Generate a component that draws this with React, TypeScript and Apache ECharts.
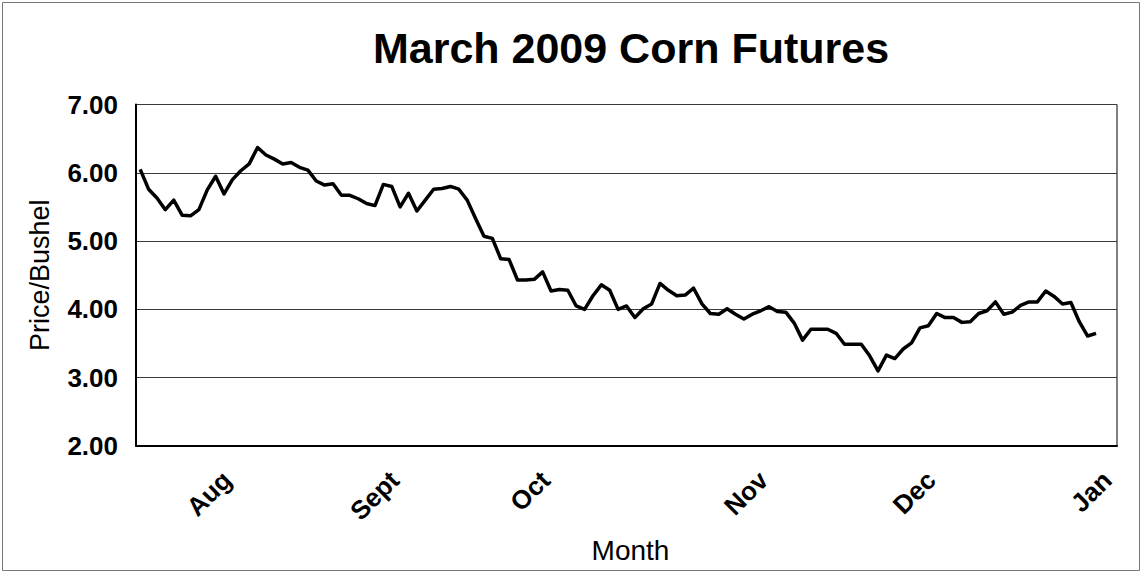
import React, { useEffect, useRef } from "react";
import * as echarts from "echarts";

const titleText = "March 2009 Corn Futures";
const yAxisName = "Price/Bushel";
const xAxisName = "Month";

// Month labels and the trading-day index where each appears
const monthLabels = ["Aug", "Sept", "Oct", "Nov", "Dec", "Jan"];
const monthIndex = [11, 31, 49, 75, 95, 116];
const categoryCount = 117;

// Daily closing prices ($/bushel)
const prices = [
  6.05, 5.76, 5.63, 5.46, 5.6, 5.38, 5.37, 5.46, 5.75, 5.95,
  5.69, 5.9, 6.03, 6.13, 6.37, 6.26, 6.2, 6.13, 6.15, 6.08,
  6.04, 5.88, 5.82, 5.84, 5.67, 5.67, 5.62, 5.55, 5.52, 5.83,
  5.8, 5.5, 5.7, 5.44, 5.6, 5.76, 5.77, 5.8, 5.76, 5.6,
  5.33, 5.07, 5.04, 4.74, 4.73, 4.43, 4.43, 4.44, 4.55, 4.27,
  4.29, 4.28, 4.05, 4.0, 4.2, 4.36, 4.28, 4.0, 4.05, 3.88,
  4.01, 4.08, 4.38, 4.28, 4.2, 4.21, 4.31, 4.08, 3.94, 3.93,
  4.01, 3.93, 3.86, 3.93, 3.98, 4.04, 3.97, 3.96, 3.8, 3.55,
  3.71, 3.71, 3.71, 3.65, 3.49, 3.49, 3.49, 3.32, 3.1, 3.33,
  3.28, 3.42, 3.51, 3.73, 3.76, 3.94, 3.88, 3.88, 3.81, 3.82,
  3.94, 3.98, 4.11, 3.93, 3.96, 4.06, 4.11, 4.11, 4.27, 4.19,
  4.08, 4.1, 3.82, 3.61, 3.65,
];

const yTicks = [2, 3, 4, 5, 6, 7];

const FONT = '"Liberation Sans", Arial, Helvetica, sans-serif';

export default function App() {
  const ref = useRef<HTMLDivElement>(null);

  useEffect(() => {
    if (!ref.current) return;
    const chart = echarts.init(ref.current, undefined, { renderer: "svg" });

    const categories: string[] = [];
    for (let i = 0; i < categoryCount; i++) {
      const k = monthIndex.indexOf(i);
      categories.push(k >= 0 ? monthLabels[k] : "");
    }

    chart.setOption({
      animation: false,
      backgroundColor: "#fff",
      title: {
        text: titleText,
        left: 626,
        top: 21,
        textAlign: "center",
        textStyle: {
          fontFamily: FONT,
          fontSize: 43,
          fontWeight: "bold",
          color: "#000",
        },
      },
      graphic: [
        {
          type: "rect",
          shape: { x: 2.5, y: 2.5, width: 1137, height: 568 },
          style: { fill: "none", stroke: "#777", lineWidth: 1 },
          silent: true,
          z: -1,
        },
      ],
      grid: {
        left: 136,
        top: 104.5,
        right: 26,
        bottom: 126,
        show: true,
        borderColor: "#000",
        borderWidth: 1,
        backgroundColor: "transparent",
      },
      xAxis: {
        type: "category",
        data: categories,
        boundaryGap: true,
        name: xAxisName,
        nameLocation: "middle",
        nameGap: 90,
        nameTextStyle: {
          fontFamily: FONT,
          fontSize: 28,
          color: "#000",
          padding: [0, 0, 0, 8],
        },
        axisLine: { show: true, lineStyle: { color: "#000", width: 2 } },
        axisTick: { show: false },
        axisLabel: {
          interval: 0,
          rotate: 45,
          margin: 24,
          padding: [0, 8, 0, 0],
          fontFamily: FONT,
          fontSize: 26,
          fontWeight: "bold",
          color: "#000",
        },
        splitLine: { show: false },
      },
      yAxis: {
        type: "value",
        min: yTicks[0],
        max: yTicks[yTicks.length - 1],
        interval: 1,
        name: yAxisName,
        nameLocation: "middle",
        nameGap: 83,
        nameRotate: 90,
        nameTextStyle: {
          fontFamily: FONT,
          fontSize: 27,
          color: "#000",
        },
        axisLine: { show: true, lineStyle: { color: "#000", width: 2 } },
        axisTick: { show: false },
        axisLabel: {
          margin: 18,
          fontFamily: FONT,
          fontSize: 26,
          fontWeight: "bold",
          color: "#000",
          formatter: (v: number) => v.toFixed(2),
        },
        splitLine: { show: true, lineStyle: { color: "#3a3a3a", width: 1 } },
      },
      series: [
        {
          type: "line",
          data: prices,
          symbol: "none",
          lineStyle: { color: "#000", width: 3.5, join: "round" },
          itemStyle: { color: "#000" },
        },
      ],
    });

    return () => chart.dispose();
  }, []);

  return (
    <div
      ref={ref}
      style={{
        position: "fixed",
        left: 0,
        top: 0,
        width: 1143,
        height: 572,
        background: "#fff",
      }}
    />
  );
}
